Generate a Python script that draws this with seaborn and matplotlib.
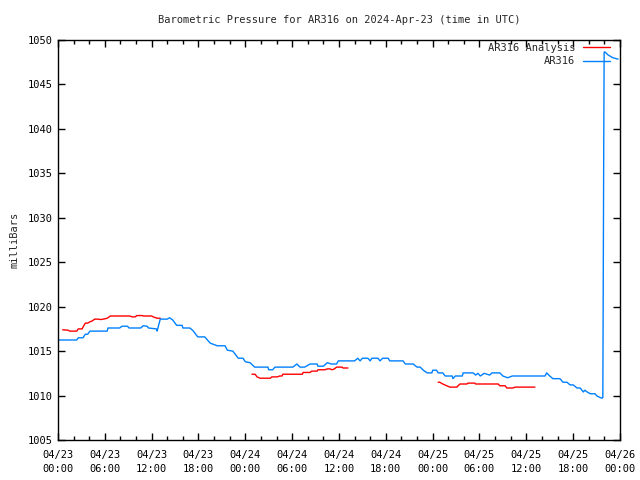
import pandas as pd
import matplotlib
matplotlib.use("Agg")
import matplotlib.pyplot as plt
import matplotlib.dates as mdates
import seaborn as sns

# hours since 2024-04-23 00:00 UTC, pressure in millibars
station_hours = [0.0, 2.4, 2.6, 3.2, 3.5, 3.8, 4.1, 6.3, 6.4, 7.9, 8.2, 8.9, 9.1, 10.6,
                 10.9, 11.4, 11.6, 12.6, 12.7, 13.1, 14.0, 14.3, 14.7, 15.2, 15.9, 16.0,
                 16.9, 17.3, 17.9, 18.8, 19.5, 20.4, 21.4, 21.7, 22.4, 23.1, 23.7, 24.0,
                 24.6, 25.2, 26.9, 27.0, 27.5, 27.8, 30.1, 30.6, 31.0, 31.6, 32.3, 33.2,
                 33.3, 34.0, 34.5, 35.0, 35.7, 35.9, 38.0, 38.4, 38.7, 39.0, 39.7, 40.0,
                 40.2, 41.0, 41.25, 41.6, 42.3, 42.5, 44.2, 44.5, 45.5, 46.0, 46.4, 46.8,
                 47.3, 47.9, 48.0, 48.5, 48.7, 49.3, 49.6, 50.5, 50.6, 50.9, 51.8, 51.9,
                 53.2, 53.5, 53.8, 54.1, 54.6, 55.3, 55.6, 56.6, 57.0, 57.6, 58.2, 62.4,
                 62.6, 63.0, 63.4, 64.3, 64.7, 65.2, 65.6, 66.0, 66.5, 66.9, 67.3, 67.5,
                 67.8, 68.2, 68.8, 69.05, 69.4, 69.7, 69.8, 69.84, 69.92, 69.97, 70.07,
                 70.5, 71.1, 71.75]
station_mb = [1016.25, 1016.25, 1016.5, 1016.5, 1016.9, 1016.9, 1017.25, 1017.25, 1017.6,
              1017.6, 1017.8, 1017.8, 1017.6, 1017.6, 1017.85, 1017.8, 1017.6, 1017.5,
              1017.25, 1018.6, 1018.6, 1018.75, 1018.5, 1017.9, 1017.9, 1017.6, 1017.6,
              1017.3, 1016.6, 1016.6, 1015.9, 1015.6, 1015.6, 1015.1, 1015.0, 1014.2,
              1014.2, 1013.8, 1013.7, 1013.2, 1013.2, 1012.9, 1012.9, 1013.2, 1013.2,
              1013.55, 1013.2, 1013.2, 1013.55, 1013.55, 1013.3, 1013.3, 1013.7, 1013.55,
              1013.55, 1013.9, 1013.9, 1014.2, 1013.9, 1014.2, 1014.2, 1013.9, 1014.2,
              1014.2, 1013.9, 1014.2, 1014.2, 1013.9, 1013.9, 1013.55, 1013.55, 1013.2,
              1013.2, 1012.85, 1012.55, 1012.55, 1012.85, 1012.85, 1012.55, 1012.55,
              1012.2, 1012.2, 1011.9, 1012.2, 1012.2, 1012.55, 1012.55, 1012.3, 1012.5,
              1012.2, 1012.5, 1012.3, 1012.55, 1012.55, 1012.2, 1012.0, 1012.2, 1012.2,
              1012.55, 1012.2, 1011.9, 1011.9, 1011.5, 1011.5, 1011.2, 1011.2, 1010.85,
              1010.85, 1010.4, 1010.6, 1010.4, 1010.2, 1010.2, 1009.95, 1009.8, 1009.7,
              1009.8, 1019.4, 1039.0, 1048.65, 1048.65, 1048.3, 1048.0, 1047.85]

# analysis series comes in three separate pieces
analysis_hours = [
    [0.6, 1.3, 1.5, 2.4, 2.6, 3.1, 3.2, 3.5, 3.8, 4.1, 4.4, 4.7, 5.1, 5.5, 6.1, 6.3,
     6.7, 9.2, 9.5, 9.9, 10.1, 10.8, 10.9, 12.0, 12.2, 12.7, 13.1],
    [24.85, 25.25, 25.5, 25.9, 27.2, 27.4, 28.1, 28.4, 28.7, 28.8, 31.3, 31.4, 32.3,
     32.5, 33.2, 33.3, 34.2, 34.5, 34.85, 35.1, 35.4, 35.7, 36.4, 36.5, 37.15],
    [48.7, 48.9, 49.3, 49.8, 50.2, 51.1, 51.25, 51.5, 52.4, 52.5, 53.4, 53.5, 56.4,
     56.6, 57.3, 57.5, 58.3, 58.55, 61.1],
]
analysis_mb = [
    [1017.4, 1017.35, 1017.25, 1017.25, 1017.5, 1017.5, 1017.7, 1018.15, 1018.15,
     1018.3, 1018.4, 1018.6, 1018.6, 1018.55, 1018.65, 1018.7, 1018.95, 1018.95,
     1018.85, 1018.85, 1019.0, 1019.0, 1018.95, 1018.95, 1018.85, 1018.7, 1018.7],
    [1012.4, 1012.4, 1012.1, 1011.95, 1011.95, 1012.1, 1012.1, 1012.2, 1012.2, 1012.4,
     1012.4, 1012.6, 1012.6, 1012.75, 1012.75, 1012.9, 1012.9, 1013.0, 1013.0, 1012.9,
     1013.0, 1013.2, 1013.2, 1013.1, 1013.1],
    [1011.5, 1011.5, 1011.3, 1011.1, 1010.95, 1010.95, 1011.1, 1011.3, 1011.3, 1011.4,
     1011.4, 1011.3, 1011.3, 1011.1, 1011.1, 1010.85, 1010.85, 1010.95, 1010.95],
]

start = pd.Timestamp("2024-04-23 00:00")

sns.set_theme(style="ticks")
plt.rcParams["font.family"] = ["DejaVu Sans Mono"]
plt.rcParams["font.size"] = 7

fig = plt.figure(figsize=(6.4, 4.8), dpi=100)
ax = fig.add_axes([58 / 640, 40 / 480, 562 / 640, 400 / 480])

# red analysis pieces
for i, (hrs, mb) in enumerate(zip(analysis_hours, analysis_mb)):
    seg = pd.DataFrame({"time": start + pd.to_timedelta(hrs, unit="h"), "mb": mb})
    sns.lineplot(data=seg, x="time", y="mb", ax=ax, color="#ff0000", linewidth=1,
                 label="AR316 Analysis" if i == 0 else None, sort=False)

station = pd.DataFrame({"time": start + pd.to_timedelta(station_hours, unit="h"),
                        "mb": station_mb})
sns.lineplot(data=station, x="time", y="mb", ax=ax, color="#0080ff", linewidth=1,
             label="AR316", sort=False)

ax.set_xlim(start, start + pd.Timedelta(hours=72))
ax.set_ylim(1005, 1050)
ax.set_yticks(range(1005, 1051, 5))
ax.xaxis.set_major_locator(mdates.HourLocator(byhour=[0, 6, 12, 18]))
ax.xaxis.set_minor_locator(mdates.HourLocator(interval=2))
ax.xaxis.set_major_formatter(mdates.DateFormatter("%m/%d\n%H:%M"))

ax.tick_params(which="both", direction="in", top=True, right=True, width=1,
               labelsize=7.5, colors="black")
ax.tick_params(axis="y", pad=4)
ax.tick_params(axis="x", pad=7)
ax.tick_params(which="major", length=5)
ax.tick_params(which="minor", length=3)
for lbl in ax.get_xticklabels():
    lbl.set_linespacing(1.5)
for side in ax.spines.values():
    side.set_linewidth(1)
    side.set_color("black")

ax.set_xlabel("")
ax.set_ylabel("milliBars", fontsize=7.5, labelpad=6)
ax.set_title("Barometric Pressure for AR316 on 2024-Apr-23 (time in UTC)",
             fontsize=7.5, pad=12)

ax.legend(loc="upper right", bbox_to_anchor=(0.982, 0.993), frameon=False,
          markerfirst=False, fontsize=7.5, handlelength=2.6, borderpad=0,
          borderaxespad=0, labelspacing=0.35, handletextpad=0.7)

fig.savefig("out.png", dpi=100)
